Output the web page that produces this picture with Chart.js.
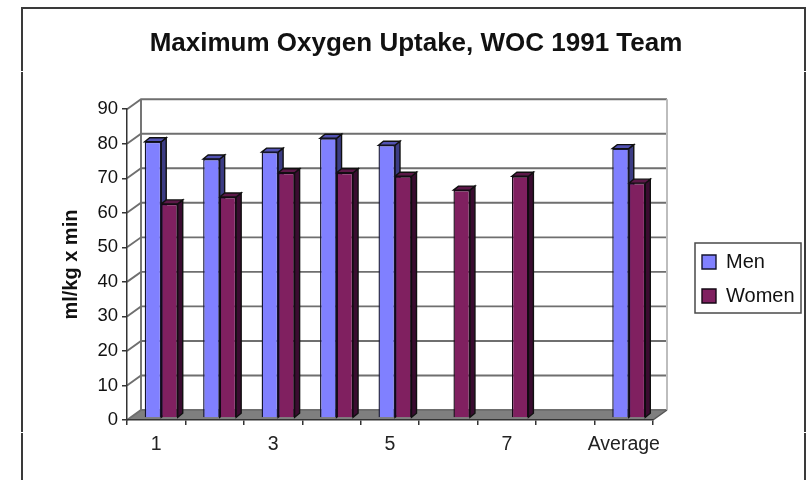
<!DOCTYPE html>
<html><head><meta charset="utf-8">
<style>html,body{margin:0;padding:0;background:#fff}canvas{display:block;filter:blur(0.45px)}</style>
<script src="https://cdn.jsdelivr.net/npm/chart.js@4"></script></head>
<body><div style="width:808px;height:480px"><canvas id="c" width="808" height="480"></canvas></div>
<script>
const categories = ['1','2','3','4','5','6','7','','Average'];
const men = [80,75,77,81,79,null,null,null,78];
const women = [62,64,71,71,70,66,70,null,68];
const yTicks = [0,10,20,30,40,50,60,70,80,90];
const titleText = 'Maximum Oxygen Uptake, WOC 1991 Team';
const yTitle = 'ml/kg x min';
const FONT = '"Liberation Sans", Arial, sans-serif';
const wall = {dx:14, dy:-10};
const bar3d = {shiftX:5, shiftY:-2, dx:5, dy:-4};
const sideColors = ['#3c3c84','#3a0c30'];
const topColors = ['#5252b4','#5c1848'];

function poly(ctx, pts, fill){
  ctx.beginPath(); pts.forEach((p,i)=> i?ctx.lineTo(p[0],p[1]):ctx.moveTo(p[0],p[1])); ctx.closePath();
  ctx.fillStyle = fill; ctx.fill(); ctx.strokeStyle = '#101010'; ctx.lineWidth = 1.4; ctx.stroke();
}
const scene = {
  id:'scene',
  afterLayout(chart){
    const t = chart.titleBlock; t.left = 24; t.right = 808; t.width = 784; t.top += 2; t.bottom += 2;
    const l = chart.legend; l.left = 688; l.top = 238; l.width = 113; l.height = 110; l.right = 801; l.bottom = 348;
  },
  beforeDraw(chart){
    const {ctx, chartArea:a, scales:{y}} = chart;
    ctx.save();
    ctx.fillStyle='#fff'; ctx.fillRect(0,0,808,480);
    ctx.strokeStyle='#3a3a3a'; ctx.lineWidth=2;
    ctx.beginPath(); ctx.moveTo(22,480); ctx.lineTo(22,8); ctx.lineTo(805,8); ctx.lineTo(805,480); ctx.stroke();
    ctx.fillStyle='#fff';
    [[19,71,7,1],[19,432,7,1],[801,71,7,1],[801,432,7,1]].forEach(r=>ctx.fillRect(...r));
    ctx.strokeStyle='#4a4a4a'; ctx.lineWidth=1.5; ctx.strokeRect(695,243,106,70);
    const b0 = y.getPixelForValue(0), t0 = y.getPixelForValue(90);
    const L=a.left, R=a.right, dx=wall.dx, dy=wall.dy;
    ctx.beginPath(); ctx.moveTo(L,b0); ctx.lineTo(R,b0); ctx.lineTo(R+dx,b0+dy); ctx.lineTo(L+dx,b0+dy); ctx.closePath();
    ctx.fillStyle='#7f7f7f'; ctx.fill();
    ctx.strokeStyle='#6f6f6f'; ctx.lineWidth=1.9;
    yTicks.forEach(v=>{
      const py=y.getPixelForValue(v);
      ctx.beginPath(); ctx.moveTo(L,py); ctx.lineTo(L+dx,py+dy); ctx.lineTo(R+dx,py+dy); ctx.stroke();
    });
    ctx.beginPath(); ctx.moveTo(L+dx,b0+dy); ctx.lineTo(L+dx,t0+dy); ctx.stroke();
    ctx.strokeStyle='#bdbdbd'; ctx.lineWidth=2;
    ctx.beginPath(); ctx.moveTo(R+dx,t0+dy); ctx.lineTo(R+dx,b0+dy); ctx.stroke();
    ctx.strokeStyle='#555'; ctx.lineWidth=1.5;
    ctx.beginPath(); ctx.moveTo(R,b0); ctx.lineTo(R+dx,b0+dy); ctx.stroke();
    ctx.restore();
  },
  beforeDatasetsDraw(chart){
    const ctx = chart.ctx;
    ctx.save();
    ctx.translate(bar3d.shiftX, bar3d.shiftY);
    const {dx,dy} = bar3d;
    [0,1].forEach(di=>{
      chart.getDatasetMeta(di).data.forEach((el,i)=>{
        if(chart.data.datasets[di].data[i]==null) return;
        const p = el.getProps(['x','y','base','width'],true);
        const xl=p.x-p.width/2, xr=p.x+p.width/2;
        poly(ctx,[[xr,p.y],[xr+dx,p.y+dy],[xr+dx,p.base+dy],[xr,p.base]],sideColors[di]);
        poly(ctx,[[xl,p.y],[xl+dx,p.y+dy],[xr+dx,p.y+dy],[xr,p.y]],topColors[di]);
      });
    });
  },
  afterDatasetsDraw(chart){ chart.ctx.restore(); }
};
new Chart(document.getElementById('c'),{
  type:'bar',
  data:{labels:categories,datasets:[
    {label:'Men',data:men,backgroundColor:'#8080ff',borderColor:'#14142e',borderWidth:1.4},
    {label:'Women',data:women,backgroundColor:'#802060',borderColor:'#140814',borderWidth:1.4}
  ]},
  plugins:[scene],
  options:{
    responsive:false,animation:false,
    layout:{padding:{left:24,right:155,top:0,bottom:0}},
    datasets:{bar:{categoryPercentage:0.565,barPercentage:1}},
    plugins:{
      tooltip:{enabled:false},
      title:{display:true,text:titleText,color:'#111',font:{family:FONT,size:26,weight:'bold'},padding:{top:26,bottom:52}},
      legend:{position:'chartArea',align:'start',
        labels:{boxWidth:14,boxHeight:14,padding:14,color:'#111',font:{family:FONT,size:20}}}
    },
    scales:{
      x:{
        grid:{display:true,drawOnChartArea:false,color:'#333',tickLength:5,lineWidth:1.5},
        border:{display:true,color:'#333',width:1.5},
        afterFit(s){s.height=60;},
        ticks:{autoSkip:false,maxRotation:0,padding:8,color:'#222',font:{family:FONT,size:19.5},
          callback(v,i){return i%2===0?this.getLabelForValue(v):'';}}
      },
      y:{
        min:0,max:90,
        grid:{display:true,drawOnChartArea:false,color:'#333',tickLength:5,lineWidth:1.5},
        border:{display:true,color:'#333',width:1.5},
        afterFit(s){s.width=103;},
        ticks:{stepSize:10,padding:4,color:'#111',font:{family:FONT,size:18.5}},
        title:{display:true,text:yTitle,color:'#111',font:{family:FONT,size:20,weight:'bold'},padding:{top:35,bottom:0}}
      }
    }
  }
});
</script></body></html>
